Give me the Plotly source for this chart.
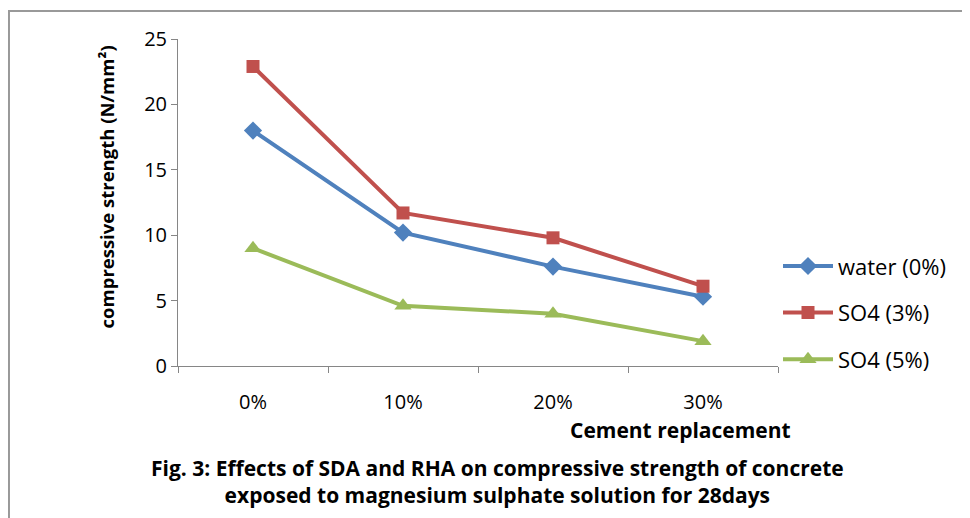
import plotly.graph_objects as go

categories = ["0%", "10%", "20%", "30%"]
water_0 = [18.0, 10.2, 7.6, 5.3]
so4_3 = [22.9, 11.7, 9.8, 6.1]
so4_5 = [9.0, 4.6, 4.0, 1.9]

series = [
    ("water (0%)", water_0, "#4F81BD", "diamond", 14),
    ("SO4 (3%)", so4_3, "#C0504D", "square", 13),
    ("SO4 (5%)", so4_5, "#9BBB59", "triangle-up", 15),
]

FONT = "Open Sans"
fig = go.Figure()
for name, vals, color, sym, size in series:
    fig.add_trace(go.Scatter(
        x=categories, y=vals, name=name, mode="lines+markers",
        line=dict(color=color, width=4),
        marker=dict(symbol=sym, size=size, color=color),
        legendgroup=name,
    ))

fig.update_layout(
    width=970, height=518,
    margin=dict(l=170, r=200, t=31, b=160),
    paper_bgcolor="white", plot_bgcolor="white",
    font=dict(family=FONT, color="black"),
    showlegend=True,
    legend=dict(x=1.0, y=0.163, xanchor="left", yanchor="middle",
                font=dict(size=22, family=FONT), tracegroupgap=15,
                bgcolor="rgba(0,0,0,0)", itemwidth=50),
    xaxis=dict(
        type="category", range=[-0.5, 3.5],
        showline=True, linecolor="#868686", linewidth=1,
        ticks="outside", tickson="boundaries", ticklen=6, tickcolor="#868686",
        showgrid=False, tickfont=dict(size=20, family=FONT), ticklabelstandoff=18,
    ),
    yaxis=dict(
        range=[0, 25], dtick=5,
        showline=True, linecolor="#868686", linewidth=1,
        ticks="outside", ticklen=6, tickcolor="#868686",
        showgrid=False, zeroline=False, tickfont=dict(size=20, family=FONT),
    ),
    shapes=[dict(type="rect", xref="paper", yref="paper",
                 x0=-0.2817, x1=1.35, y0=-0.6, y1=1.086,
                 line=dict(color="#999999", width=2), fillcolor="rgba(0,0,0,0)", layer="below")],
    annotations=[
        dict(text="<b>compressive strength (N/mm²)</b>", textangle=-90,
             xref="paper", yref="paper", x=-0.12, y=0.546, xanchor="center", yanchor="middle",
             showarrow=False, font=dict(size=18.5, family=FONT)),
        dict(text="<b>Cement replacement</b>",
             xref="paper", yref="paper", x=0.838, y=-0.196, xanchor="center", yanchor="middle",
             showarrow=False, font=dict(size=21, family=FONT)),
        dict(text="<b>Fig. 3: Effects of SDA and RHA on compressive strength of concrete</b><br>"
                  "<b>exposed to magnesium sulphate solution for 28days</b>",
             xref="paper", yref="paper", x=0.532, y=-0.353, xanchor="center", yanchor="middle",
             align="center", showarrow=False, font=dict(size=21, family=FONT)),
    ],
)

fig.write_html("out.html")
